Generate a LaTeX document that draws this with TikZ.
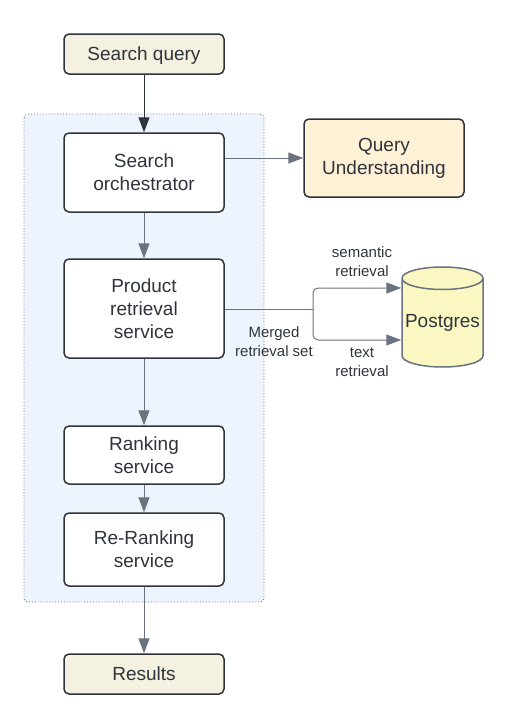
\documentclass[tikz,border=0pt]{standalone}
\usepackage{fontspec}
\setmainfont{Liberation Sans}
\usetikzlibrary{positioning,calc,arrows.meta,shapes.geometric}
\definecolor{InkGray}{HTML}{2F343C}
\definecolor{WireGray}{HTML}{6B7280}
\definecolor{QueryBeige}{HTML}{F5F1E0}
\definecolor{UnderPeach}{HTML}{FFF1D6}
\definecolor{PoolBlue}{HTML}{EDF4FE}
\definecolor{DbYellow}{HTML}{FAF7C2}
\tikzset{
	svc/.style={draw=InkGray,line width=1.5pt,rounded corners=5pt,fill=white,minimum width=160pt,
		align=center,text=InkGray,font=\fontsize{19}{23}\selectfont,inner sep=0pt},
	wire/.style={draw=WireGray,line width=1pt,-{Triangle[length=15pt,width=11pt]}},
	note/.style={text=InkGray,font=\fontsize{15}{19}\selectfont,align=center},
}

\begin{document}
\begin{tikzpicture}[x=1pt,y=-1pt]
	\useasboundingbox (0,0) rectangle (506,728);
	% service group
	\draw[draw=WireGray,dotted,line width=0.9pt,fill=PoolBlue,rounded corners=4pt] (24,114) rectangle (264,602);
	\node[svc,fill=QueryBeige,minimum height=40pt,text depth=1pt] (query) at (144,54) {Search query};
	\node[svc,minimum height=79pt] (orch) at (144,172.5) {Search\\orchestrator};
	\node[svc,fill=UnderPeach,minimum height=78pt] (qu) at (384,158) {Query\\Understanding};
	\node[svc,minimum height=99pt] (prod) at (144,308.5) {Product\\retrieval\\service};
	\node[svc,minimum height=58pt] (rank) at (144,455) {Ranking\\service};
	\node[svc,minimum height=73pt] (rerank) at (144,549.5) {Re-Ranking\\service};
	\node[svc,fill=QueryBeige,minimum height=40pt,text depth=1pt] (results) at (144,674) {Results};
	\node[cylinder,shape border rotate=90,draw=WireGray,line width=1.5pt,fill=DbYellow,
		minimum width=81pt,minimum height=100pt,aspect=0.3,text=InkGray,
		font=\fontsize{19}{23}\selectfont,inner sep=0pt] (db) at (442.5,323) {Postgres};
	\coordinate (split) at (313,309);
	% connectors
	\draw[wire,draw=InkGray] (query) -- (orch);
	\draw[wire] (orch.east |- qu) -- (qu);
	\draw[wire] (orch) -- (prod);
	\draw[wire] (prod) -- (rank);
	\draw[wire] (rank) -- (rerank);
	\draw[wire] (rerank) -- (results);
	\draw[draw=WireGray,line width=1pt] (prod.east |- split) -- (split);
	\draw[wire,rounded corners=5pt] (split) |- ($(db.west)+(0,-35)$);
	\draw[wire,rounded corners=5pt] (split) |- ($(db.west)+(0,17)$);
	\node[note] (sem) at (362,262) {semantic\\retrieval};
	\node[note] (txt) at (362,362) {text\\retrieval};
	\node[note] (merged) at (274,342) {Merged\\retrieval set};
\end{tikzpicture}
\end{document}
